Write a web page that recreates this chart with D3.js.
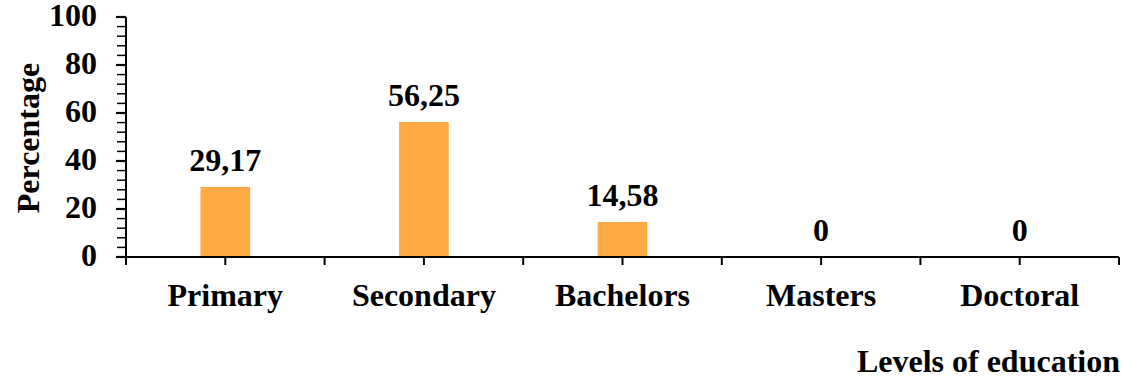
<!DOCTYPE html>
<html>
<head>
<meta charset="utf-8">
<script src="https://cdn.jsdelivr.net/npm/d3@7"></script>
<style>
  html, body { margin: 0; padding: 0; background: #ffffff; }
  svg { display: block; }
  text { font-family: "Liberation Serif", "Times New Roman", serif; font-weight: bold; fill: #000; }
</style>
</head>
<body>
<svg id="chart" width="1123" height="381"></svg>
<script>
// Education levels and their share (%)
const categories = ["Primary", "Secondary", "Bachelors", "Masters", "Doctoral"];
const values = [29.17, 56.25, 14.58, 0, 0];
const valueLabels = ["29,17", "56,25", "14,58", "0", "0"];
const yTicks = [0, 20, 40, 60, 80, 100];
const yMinorTicks = d3.range(0, 101, 4);
const yTitle = "Percentage";
const xTitle = "Levels of education";

const svg = d3.select("#chart");
const plotLeft = 126, plotRight = 1119, plotTop = 17, plotBottom = 257;
const fontSize = 32;

const x = d3.scaleBand()
  .domain(categories)
  .range([plotLeft, plotRight])
  .paddingInner(0.75)
  .paddingOuter(0.375);

const y = d3.scaleLinear().domain([0, 100]).range([plotBottom, plotTop]);

// Bars
svg.append("g").selectAll("rect")
  .data(values)
  .join("rect")
  .attr("x", (d, i) => x(categories[i]))
  .attr("y", d => y(d))
  .attr("width", x.bandwidth())
  .attr("height", d => y(0) - y(d))
  .attr("fill", "#FFAA44");

// Y axis: minor ticks, major ticks, labels
const yAxis = svg.append("g");
yAxis.selectAll("line.minor")
  .data(yMinorTicks)
  .join("line")
  .attr("class", "minor")
  .attr("x1", plotLeft - 9).attr("x2", plotLeft)
  .attr("y1", d => y(d)).attr("y2", d => y(d))
  .attr("stroke", "#000").attr("stroke-width", 1.5);
yAxis.selectAll("line.major")
  .data(yTicks)
  .join("line")
  .attr("class", "major")
  .attr("x1", plotLeft - 10).attr("x2", plotLeft)
  .attr("y1", d => y(d)).attr("y2", d => y(d))
  .attr("stroke", "#000").attr("stroke-width", 2.2);
yAxis.selectAll("text")
  .data(yTicks)
  .join("text")
  .attr("x", 97)
  .attr("y", d => y(d) + 9)
  .attr("text-anchor", "end")
  .attr("font-size", fontSize)
  .text(d => d);
yAxis.append("line")
  .attr("x1", plotLeft).attr("x2", plotLeft)
  .attr("y1", plotTop).attr("y2", plotBottom + 8)
  .attr("stroke", "#000").attr("stroke-width", 2);

// X axis: ticks at category centres and boundaries
const step = x.step();
const xTickPos = [];
categories.forEach((c, i) => {
  xTickPos.push(plotLeft + i * step);
  xTickPos.push(plotLeft + (i + 0.5) * step);
});
xTickPos.push(plotRight);
const xAxis = svg.append("g");
xAxis.append("line")
  .attr("x1", plotLeft - 10).attr("x2", plotRight)
  .attr("y1", plotBottom).attr("y2", plotBottom)
  .attr("stroke", "#000").attr("stroke-width", 2);
xAxis.selectAll("line.tick")
  .data(xTickPos)
  .join("line")
  .attr("class", "tick")
  .attr("x1", d => d).attr("x2", d => d)
  .attr("y1", plotBottom).attr("y2", plotBottom + 8)
  .attr("stroke", "#000").attr("stroke-width", 2);
xAxis.selectAll("text")
  .data(categories)
  .join("text")
  .attr("x", d => x(d) + x.bandwidth() / 2)
  .attr("y", 306)
  .attr("text-anchor", "middle")
  .attr("font-size", fontSize)
  .text(d => d);

// Value labels above bars
svg.append("g").selectAll("text")
  .data(values)
  .join("text")
  .attr("x", (d, i) => x(categories[i]) + x.bandwidth() / 2)
  .attr("y", d => y(d) - 16)
  .attr("text-anchor", "middle")
  .attr("font-size", fontSize)
  .text((d, i) => valueLabels[i]);

// Axis titles
svg.append("text")
  .attr("transform", "translate(39,138) rotate(-90)")
  .attr("text-anchor", "middle")
  .attr("font-size", fontSize)
  .text(yTitle);
svg.append("text")
  .attr("x", 1120)
  .attr("y", 372)
  .attr("text-anchor", "end")
  .attr("font-size", fontSize)
  .text(xTitle);
</script>
</body>
</html>
